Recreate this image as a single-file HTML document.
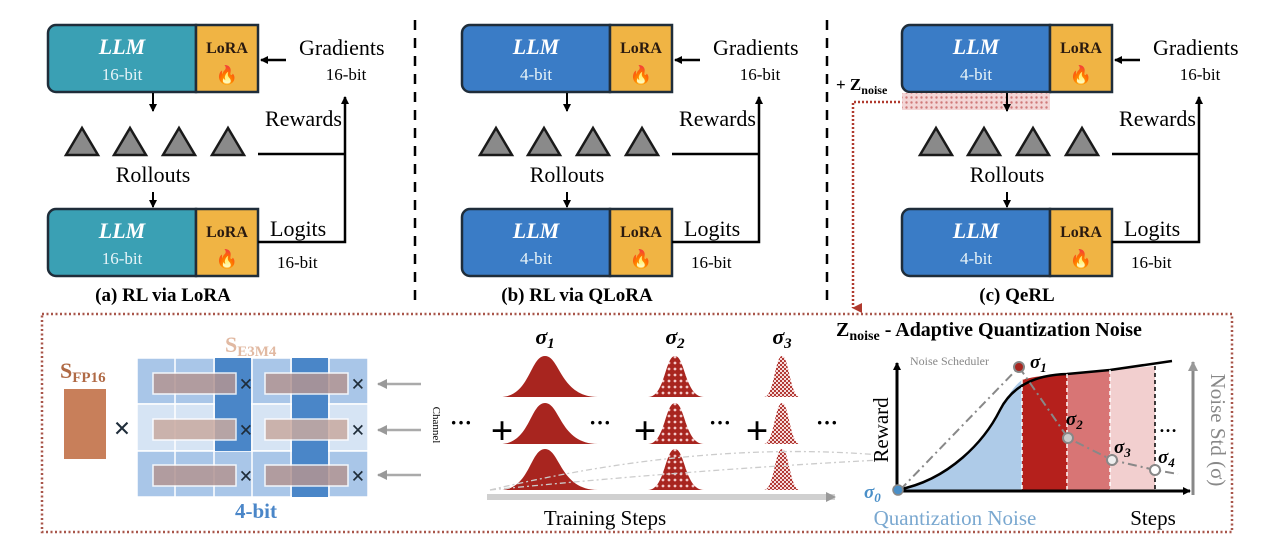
<!DOCTYPE html>
<html><head><meta charset="utf-8"><style>
html,body{margin:0;padding:0;background:#fff}
svg{display:block}
svg text{font-family:"Liberation Serif",serif}
</style></head><body>
<svg width="1280" height="545" viewBox="0 0 1280 545" xmlns="http://www.w3.org/2000/svg" font-family="Liberation Serif, serif">
<defs>
<marker id="ah" markerWidth="8" markerHeight="8" refX="7" refY="4" orient="auto" markerUnits="userSpaceOnUse"><path d="M0,0 L8,4 L0,8 z" fill="#000"/></marker>
<marker id="ag" markerWidth="10" markerHeight="10" refX="9" refY="5" orient="auto" markerUnits="userSpaceOnUse"><path d="M0,0 L10,5 L0,10 z" fill="#999"/></marker>
<marker id="ar" markerWidth="10" markerHeight="10" refX="5" refY="9" orient="auto" markerUnits="userSpaceOnUse"><path d="M0,0 L10,0 L5,10 z" fill="#b03a2e"/></marker>
<pattern id="dots" width="5" height="5" patternUnits="userSpaceOnUse"><rect width="5" height="5" fill="#f3d6d6"/><circle cx="2.5" cy="2.5" r="1.2" fill="#d07a7a"/></pattern>
<pattern id="chk2" width="6" height="6" patternUnits="userSpaceOnUse"><rect width="6" height="6" fill="#a8251f"/><circle cx="3" cy="3" r="1.4" fill="#f3c9c9"/></pattern>
<pattern id="chk3" width="4" height="4" patternUnits="userSpaceOnUse"><rect width="4" height="4" fill="#f6dcdc"/><rect width="2" height="2" fill="#b23a35"/><rect x="2" y="2" width="2" height="2" fill="#b23a35"/></pattern>
<g id="shapes">
  <line x1="153" y1="93" x2="153" y2="111" stroke="#000" stroke-width="2" marker-end="url(#ah)"/>
  <line x1="153" y1="192" x2="153" y2="207" stroke="#000" stroke-width="2" marker-end="url(#ah)"/>
  <g fill="#8a8a8a" stroke="#1a1a1a" stroke-width="2.5">
    <path d="M66,155 L82,128 L98,155 z"/><path d="M114,155 L130,128 L146,155 z"/>
    <path d="M163,155 L179,128 L195,155 z"/><path d="M212,155 L228,128 L244,155 z"/>
  </g>
  <rect x="196" y="25" width="62" height="67" fill="#f0b444" stroke="#1f2d3a" stroke-width="2.5"/>
  <rect x="196" y="209" width="62" height="67" fill="#f0b444" stroke="#1f2d3a" stroke-width="2.5"/>
  <line x1="286" y1="60" x2="261" y2="60" stroke="#000" stroke-width="2.5" marker-end="url(#ah)"/>
  <polyline points="258,242 345,242 345,97" fill="none" stroke="#000" stroke-width="2.5" marker-end="url(#ah)"/>
  <line x1="258" y1="154" x2="345" y2="154" stroke="#000" stroke-width="2.5"/>
</g>
</defs>

<!-- panel a -->
<g>
  <path d="M48,33 a8,8 0 0 1 8,-8 H196 V92 H56 a8,8 0 0 1 -8,-8 z" fill="#3aa0b4" stroke="#1f2d3a" stroke-width="2.5"/>
  <path d="M48,217 a8,8 0 0 1 8,-8 H196 V276 H56 a8,8 0 0 1 -8,-8 z" fill="#3aa0b4" stroke="#1f2d3a" stroke-width="2.5"/>
  <use href="#shapes"/>
  <text x="122" y="54" font-size="22" font-weight="bold" font-style="italic" fill="#fff" text-anchor="middle">LLM</text>
  <text x="122" y="238" font-size="22" font-weight="bold" font-style="italic" fill="#fff" text-anchor="middle">LLM</text>
  <text x="227" y="53" font-size="16" font-weight="bold" fill="#2a1a10" text-anchor="middle">LoRA</text>
  <text x="227" y="237" font-size="16" font-weight="bold" fill="#2a1a10" text-anchor="middle">LoRA</text>
  <text x="227" y="81" font-size="18" text-anchor="middle">🔥</text>
  <text x="227" y="265" font-size="18" text-anchor="middle">🔥</text>
  <text x="153" y="182" font-size="22" text-anchor="middle">Rollouts</text>
  <text x="299" y="55" font-size="22">Gradients</text>
  <text x="346" y="80" font-size="17" text-anchor="middle">16-bit</text>
  <text x="342" y="126" font-size="22" text-anchor="end">Rewards</text>
  <text x="270" y="236" font-size="22">Logits</text>
  <text x="277" y="268" font-size="17">16-bit</text>
  <text x="122" y="80" font-size="17" fill="#e8f4f8" text-anchor="middle">16-bit</text>
  <text x="122" y="264" font-size="17" fill="#e8f4f8" text-anchor="middle">16-bit</text>
</g>
<!-- panel b -->
<g transform="translate(414,0)">
  <path d="M48,33 a8,8 0 0 1 8,-8 H196 V92 H56 a8,8 0 0 1 -8,-8 z" fill="#3a7cc6" stroke="#1f2d3a" stroke-width="2.5"/>
  <path d="M48,217 a8,8 0 0 1 8,-8 H196 V276 H56 a8,8 0 0 1 -8,-8 z" fill="#3a7cc6" stroke="#1f2d3a" stroke-width="2.5"/>
  <use href="#shapes"/>
  <text x="122" y="54" font-size="22" font-weight="bold" font-style="italic" fill="#fff" text-anchor="middle">LLM</text>
  <text x="122" y="238" font-size="22" font-weight="bold" font-style="italic" fill="#fff" text-anchor="middle">LLM</text>
  <text x="227" y="53" font-size="16" font-weight="bold" fill="#2a1a10" text-anchor="middle">LoRA</text>
  <text x="227" y="237" font-size="16" font-weight="bold" fill="#2a1a10" text-anchor="middle">LoRA</text>
  <text x="227" y="81" font-size="18" text-anchor="middle">🔥</text>
  <text x="227" y="265" font-size="18" text-anchor="middle">🔥</text>
  <text x="153" y="182" font-size="22" text-anchor="middle">Rollouts</text>
  <text x="299" y="55" font-size="22">Gradients</text>
  <text x="346" y="80" font-size="17" text-anchor="middle">16-bit</text>
  <text x="342" y="126" font-size="22" text-anchor="end">Rewards</text>
  <text x="270" y="236" font-size="22">Logits</text>
  <text x="277" y="268" font-size="17">16-bit</text>
  <text x="122" y="80" font-size="17" fill="#e8f4f8" text-anchor="middle">4-bit</text>
  <text x="122" y="264" font-size="17" fill="#e8f4f8" text-anchor="middle">4-bit</text>
</g>
<!-- panel c -->
<g transform="translate(854,0)">
  <path d="M48,33 a8,8 0 0 1 8,-8 H196 V92 H56 a8,8 0 0 1 -8,-8 z" fill="#3a7cc6" stroke="#1f2d3a" stroke-width="2.5"/>
  <path d="M48,217 a8,8 0 0 1 8,-8 H196 V276 H56 a8,8 0 0 1 -8,-8 z" fill="#3a7cc6" stroke="#1f2d3a" stroke-width="2.5"/>
  <rect x="48" y="93" width="148" height="17" fill="url(#dots)"/>
  <use href="#shapes"/>
  <text x="122" y="54" font-size="22" font-weight="bold" font-style="italic" fill="#fff" text-anchor="middle">LLM</text>
  <text x="122" y="238" font-size="22" font-weight="bold" font-style="italic" fill="#fff" text-anchor="middle">LLM</text>
  <text x="227" y="53" font-size="16" font-weight="bold" fill="#2a1a10" text-anchor="middle">LoRA</text>
  <text x="227" y="237" font-size="16" font-weight="bold" fill="#2a1a10" text-anchor="middle">LoRA</text>
  <text x="227" y="81" font-size="18" text-anchor="middle">🔥</text>
  <text x="227" y="265" font-size="18" text-anchor="middle">🔥</text>
  <text x="153" y="182" font-size="22" text-anchor="middle">Rollouts</text>
  <text x="299" y="55" font-size="22">Gradients</text>
  <text x="346" y="80" font-size="17" text-anchor="middle">16-bit</text>
  <text x="342" y="126" font-size="22" text-anchor="end">Rewards</text>
  <text x="270" y="236" font-size="22">Logits</text>
  <text x="277" y="268" font-size="17">16-bit</text>
  <text x="122" y="80" font-size="17" fill="#e8f4f8" text-anchor="middle">4-bit</text>
  <text x="122" y="264" font-size="17" fill="#e8f4f8" text-anchor="middle">4-bit</text>
</g>

<g font-size="19" font-weight="bold" text-anchor="middle">
<text x="163" y="301">(a) RL via LoRA</text>
<text x="577" y="301">(b) RL via QLoRA</text>
<text x="1017" y="301">(c) QeRL</text>
</g>
<line x1="415" y1="20" x2="415" y2="305" stroke="#000" stroke-width="2.5" stroke-dasharray="10,8"/>
<line x1="827" y1="20" x2="827" y2="300" stroke="#000" stroke-width="2.5" stroke-dasharray="10,8"/>
<text x="836" y="90" font-size="17" font-weight="bold">+ Z<tspan font-size="12" dy="4">noise</tspan></text>
<polyline points="900,102 853,102 853,308" fill="none" stroke="#b03a2e" stroke-width="2.5" stroke-dasharray="2,2" marker-end="url(#ar)"/>
<rect x="42" y="314" width="1190" height="218" fill="none" stroke="#a8564a" stroke-width="2.5" stroke-dasharray="2,2.5"/>
<text x="60" y="378" font-size="22" font-weight="bold" fill="#b06a45">S<tspan font-size="15" dy="4">FP16</tspan></text>
<rect x="64" y="389" width="42" height="70" fill="#c87f5a"/>
<text x="122" y="438" font-size="30" font-weight="bold" fill="#1f2d3a" text-anchor="middle">×</text>
<text x="225" y="352" font-size="22" font-weight="bold" fill="#e1b9a2">S<tspan font-size="15" dy="4">E3M4</tspan></text>
<g stroke="#fff" stroke-width="1.5">
<rect x="137" y="358" width="231" height="46" fill="#a9c6e8"/>
<rect x="137" y="404" width="231" height="47" fill="#d6e4f4"/>
<rect x="137" y="451" width="231" height="46" fill="#a9c6e8"/>
<line x1="175" y1="358" x2="175" y2="497"/><line x1="214" y1="358" x2="214" y2="497"/>
<line x1="252" y1="358" x2="252" y2="497"/><line x1="291" y1="358" x2="291" y2="497"/><line x1="329" y1="358" x2="329" y2="497"/>
</g>
<rect x="215" y="358" width="36" height="93" fill="#4a86c8"/>
<rect x="292" y="358" width="36" height="139" fill="#4a86c8"/>
<g stroke="#fff" stroke-width="1.5" opacity="0.85">
<rect x="153" y="373" width="83" height="21" fill="#b39593"/><rect x="265" y="373" width="83" height="21" fill="#b39593"/>
<rect x="153" y="419" width="83" height="21" fill="#c9aaa0"/><rect x="265" y="419" width="83" height="21" fill="#c9aaa0"/>
<rect x="153" y="465" width="83" height="21" fill="#b39593"/><rect x="265" y="465" width="83" height="21" fill="#b39593"/>
</g>
<g font-size="24" font-weight="bold" fill="#1f2d3a" text-anchor="middle">
<text x="246" y="392">×</text><text x="358" y="392">×</text>
<text x="246" y="438">×</text><text x="358" y="438">×</text>
<text x="246" y="484">×</text><text x="358" y="484">×</text>
</g>
<g stroke="#aaa" stroke-width="2.5">
<line x1="421" y1="384" x2="378" y2="384" marker-end="url(#ag)"/>
<line x1="421" y1="430" x2="378" y2="430" marker-end="url(#ag)"/>
<line x1="421" y1="475" x2="378" y2="475" marker-end="url(#ag)"/>
</g>
<text transform="translate(433,425) rotate(90)" font-size="11" text-anchor="middle">Channel</text>
<text x="256" y="518" font-size="21" font-weight="bold" fill="#4a86c8" text-anchor="middle">4-bit</text>
<g id="g1"><path d="M500,397 C530,397 530,356 545,356 C560,356 560,397 598,397 z" fill="#a8251f"/></g>
<use href="#g1" y="47"/><use href="#g1" y="93"/>
<g id="g2"><path d="M648,397 C665,397 665,356 675,356 C685,356 685,397 704,397 z" fill="url(#chk2)"/></g>
<use href="#g2" y="47"/><use href="#g2" y="93"/>
<g id="g3"><path d="M764,397 C774,397 775,356 782,356 C789,356 790,397 800,397 z" fill="url(#chk3)"/></g>
<use href="#g3" y="47"/><use href="#g3" y="93"/>
<g font-size="22" font-weight="bold" font-style="italic" text-anchor="middle">
<text x="545" y="344">σ<tspan font-size="15" dy="4">1</tspan></text>
<text x="675" y="344">σ<tspan font-size="15" dy="4">2</tspan></text>
<text x="782" y="344">σ<tspan font-size="15" dy="4">3</tspan></text>
</g>
<g font-size="40" font-weight="bold" text-anchor="middle">
<text x="502" y="444">+</text><text x="645" y="444">+</text><text x="757" y="444">+</text>
</g>
<g font-size="22" font-weight="bold" text-anchor="middle">
<text x="461" y="430">···</text><text x="600" y="430">···</text><text x="720" y="430">···</text><text x="827" y="430">···</text>
</g>
<path d="M490,490 Q700,440 880,455" fill="none" stroke="#ccc" stroke-width="1.3" stroke-dasharray="6,3,2,3"/>
<path d="M490,490 Q690,470 880,460" fill="none" stroke="#ccc" stroke-width="1.3" stroke-dasharray="6,3,2,3"/>
<line x1="487" y1="497" x2="835" y2="497" stroke="#d0d0d0" stroke-width="6" marker-end="url(#ag)"/>
<text x="605" y="525" font-size="21" text-anchor="middle">Training Steps</text>
<text x="836" y="336" font-size="20" font-weight="bold">Z<tspan font-size="14" dy="4">noise</tspan><tspan dy="-4"> - Adaptive Quantization Noise</tspan></text>
<path d="M897,490 C950,480 985,440 1000,410 C1008,395 1015,385 1022,380 L1022,491 L897,491 z" fill="#aecbe8"/>
<path d="M1022,380 C1035,376 1050,375 1067,374 L1067,491 L1022,491 z" fill="#b5201c"/>
<path d="M1067,374 L1110,370 L1110,491 L1067,491 z" fill="#d87575"/>
<path d="M1110,370 L1155,366 L1155,491 L1110,491 z" fill="#f2cfcf"/>
<path d="M897,490 C950,480 985,440 1000,410 C1010,390 1030,375 1067,374 L1110,370 L1172,361" fill="none" stroke="#000" stroke-width="2.5"/>
<g stroke-width="1.5" stroke-dasharray="4,3">
<line x1="1022" y1="380" x2="1022" y2="491" stroke="#fff"/><line x1="1067" y1="374" x2="1067" y2="491" stroke="#fff"/>
<line x1="1110" y1="370" x2="1110" y2="491" stroke="#fff"/><line x1="1155" y1="366" x2="1155" y2="491" stroke="#000"/>
</g>
<polyline points="900,490 1019,367 1068,438 1112,460 1155,470 1178,474" fill="none" stroke="#888" stroke-width="2" stroke-dasharray="9,4,2,4"/>
<line x1="897" y1="491" x2="897" y2="363" stroke="#000" stroke-width="3" marker-end="url(#ah)"/>
<line x1="897" y1="491" x2="1190" y2="491" stroke="#000" stroke-width="3" marker-end="url(#ah)"/>
<line x1="1193" y1="495" x2="1193" y2="362" stroke="#888" stroke-width="3" marker-end="url(#ag)"/>
<circle cx="1019" cy="367" r="5" fill="#a8251f" stroke="#888" stroke-width="2"/>
<circle cx="1068" cy="438" r="5" fill="#ccc" stroke="#888" stroke-width="2"/>
<circle cx="1112" cy="460" r="5" fill="#eee" stroke="#888" stroke-width="2"/>
<circle cx="1155" cy="470" r="5" fill="#fff" stroke="#888" stroke-width="2"/>
<circle cx="898" cy="490" r="5" fill="#4a8fc8" stroke="#888" stroke-width="1.5"/>
<text x="910" y="365" font-size="12" fill="#888">Noise Scheduler</text>
<g font-size="19" font-weight="bold" font-style="italic">
<text x="1030" y="368">σ<tspan font-size="13" dy="4">1</tspan></text>
<text x="1066" y="425">σ<tspan font-size="13" dy="4">2</tspan></text>
<text x="1114" y="453">σ<tspan font-size="13" dy="4">3</tspan></text>
<text x="1158" y="463">σ<tspan font-size="13" dy="4">4</tspan></text>
<text x="864" y="498" fill="#4a8fc8">σ<tspan font-size="13" dy="4">0</tspan></text>
</g>
<text x="1168" y="432" font-size="18" font-weight="bold" text-anchor="middle">…</text>
<text transform="translate(888,430) rotate(-90)" font-size="21" text-anchor="middle">Reward</text>
<text transform="translate(1211,430) rotate(90)" font-size="21" fill="#888" text-anchor="middle">Noise Std (σ)</text>
<text x="955" y="525" font-size="21" fill="#7aa8d0" text-anchor="middle">Quantization Noise</text>
<text x="1153" y="525" font-size="21" text-anchor="middle">Steps</text>
</svg>
</body></html>
